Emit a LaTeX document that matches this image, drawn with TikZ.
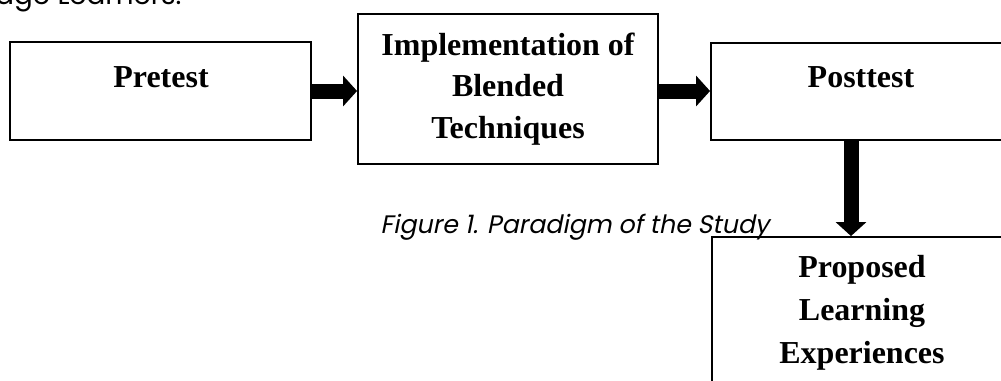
\documentclass[tikz,border=0pt]{standalone}
\usepackage{fontspec}
\setmainfont{Liberation Serif}
\newfontfamily\gothic{Poppins}
\newfontfamily\gothicit[FakeSlant=0.2]{Poppins}
\usetikzlibrary{arrows.meta}

\tikzset{
  box/.style={draw, line width=1.1pt, minimum width=#1, inner sep=0pt},
  boxtext/.style={font=\fontsize{18.2}{23.6}\selectfont\bfseries, align=center, inner sep=0pt},
  fat/.style={line width=0.3cm, -{Triangle[length=0.28cm,width=0.6cm]}}
}

\begin{document}
\begin{tikzpicture}[x=0.02cm, y=-0.02cm]
\useasboundingbox (0,0) rectangle (1001,380);

% text cut off at the top
\node[anchor=base west, inner sep=0pt, font=\gothic\fontsize{15.8}{18}\selectfont] (top) at (-5,4) {age Learners.};

% boxes
\node[box=6.02cm, minimum height=1.96cm] (pre) at (160.5,91) {};
\node[box=6cm, minimum height=3cm] (impl) at (508,89) {};
\node[box=6cm, minimum height=1.94cm] (post) at (861,91.5) {};
\node[box=6cm, minimum height=4cm] (prop) at (862,337) {};

% base = last line
\node[boxtext, anchor=base] (pre-t) at (161,87) {Pretest};
\node[boxtext, anchor=base] (impl-t) at (508,138) {Implementation of\\Blended\\Techniques};
\node[boxtext, anchor=base] (post-t) at (861,87) {Posttest};
\node[boxtext, anchor=base, font=\fontsize{18.2}{24.4}\selectfont\bfseries] (prop-t) at (862,363) {Proposed\\Learning\\Experiences};

% arrows
\coordinate (dn) at (851,0);
\draw[fat] (pre.east) -- (pre.east -| impl.west);
\draw[fat] (pre.east -| impl.east) -- (pre.east -| post.west);
\draw[fat] (post.south -| dn) -- (prop.north -| dn);

% caption
\node[anchor=base west, inner sep=0pt, font=\gothicit\fontsize{14.4}{17}\selectfont] (cap) at (380,233) {Figure 1. Paradigm of the Study};

\end{tikzpicture}
\end{document}
